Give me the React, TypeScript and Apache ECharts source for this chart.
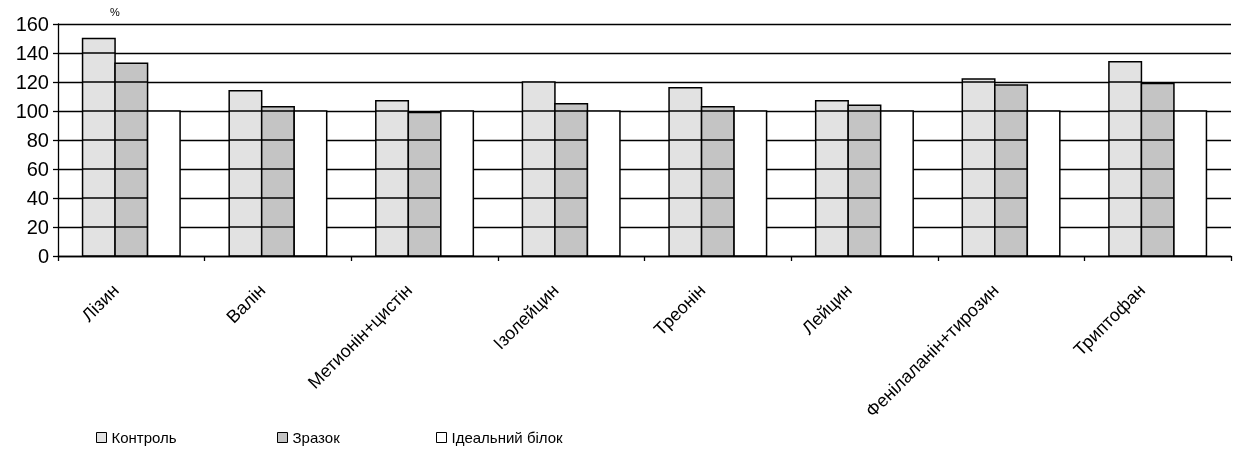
import React, { useEffect, useRef } from "react";
import * as echarts from "echarts";

// Amino acid scores, % of the ideal protein
const categories = [
  "Лізин",
  "Валін",
  "Метионін+цистін",
  "Ізолейцин",
  "Треонін",
  "Лейцин",
  "Фенілаланін+тирозин",
  "Триптофан",
];
const controlValues = [150, 114, 107, 120, 116, 107, 122, 134];
const sampleValues = [133, 103, 99, 105, 103, 104, 118, 119];
const idealValues = [100, 100, 100, 100, 100, 100, 100, 100];
const seriesNames = ["Контроль", "Зразок", "Ідеальний білок"];
const yTicks = [20, 40, 60, 80, 100, 120, 140, 160];

const FONT = "'Liberation Sans', Arial, sans-serif";
const FILLS = ["#e2e2e2", "#c4c4c4", "#ffffff"];
const BAR_FRACTION = 0.2217; // share of a category band taken by one bar

// One bar per item; grey bars also repeat the horizontal grid lines across their face.
function makeBarSeries(k: number, values: number[]) {
  return {
    type: "custom",
    name: seriesNames[k],
    z: 2 + k,
    data: values.map((v, i) => [i, v]),
    encode: { x: 0, y: 1 },
    itemStyle: { color: FILLS[k], borderColor: "#000", borderWidth: 1 },
    renderItem: (params: any, api: any) => {
      const cat = api.value(0);
      const val = api.value(1);
      const base = api.coord([cat, 0]);
      const top = api.coord([cat, val]);
      const band = api.size([1, 0])[0];
      const bw = band * BAR_FRACTION;
      const x = base[0] + (k - 1.5) * bw;
      const children: any[] = [
        {
          type: "rect",
          shape: { x, y: top[1], width: bw, height: base[1] - top[1] },
          style: { fill: FILLS[k], stroke: "#000", lineWidth: 1.5 },
        },
      ];
      if (k < 2) {
        yTicks
          .filter((t) => t < val)
          .forEach((t) => {
            const y = api.coord([cat, t])[1];
            children.push({
              type: "line",
              shape: { x1: x, y1: y, x2: x + bw, y2: y },
              style: { stroke: "#000", lineWidth: 1.3 },
            });
          });
      }
      return { type: "group", children };
    },
  };
}

export default function App() {
  const ref = useRef<HTMLDivElement>(null);

  useEffect(() => {
    if (!ref.current) return;
    const chart = echarts.init(ref.current, undefined, { renderer: "svg" });

    chart.setOption({
      animation: false,
      grid: { left: 58, right: 2, top: 24, bottom: 194, containLabel: false },
      legend: [0, 1, 2].map((i) => ({
        data: [seriesNames[i]],
        left: [96, 277, 436][i],
        top: 430,
        padding: 0,
        itemWidth: 10,
        itemHeight: 10,
        itemGap: 6,
        icon: "rect",
        itemStyle: { borderColor: "#000", borderWidth: 1 },
        textStyle: { fontFamily: FONT, fontSize: 15, lineHeight: 15, color: "#000" },
      })),
      graphic: [
        {
          type: "text",
          left: 110,
          top: 6,
          style: { text: "%", fontFamily: FONT, fontSize: 11, fill: "#000" },
        },
      ],
      xAxis: {
        type: "category",
        data: categories,
        z: 10,
        axisLine: { lineStyle: { color: "#000", width: 1.3 } },
        axisTick: { show: true, length: 5, lineStyle: { color: "#000", width: 1.3 } },
        axisLabel: {
          rotate: 45,
          margin: 3,
          align: "right",
          verticalAlign: "top",
          padding: [0, 31, 0, 0],
          fontFamily: FONT,
          fontSize: 18,
          color: "#000",
          interval: 0,
        },
      },
      yAxis: {
        type: "value",
        min: 0,
        max: 160,
        interval: 20,
        axisLine: { show: true, lineStyle: { color: "#000", width: 1.3 } },
        axisTick: { show: true, length: 5, lineStyle: { color: "#000", width: 1.3 } },
        axisLabel: { fontFamily: FONT, fontSize: 20, color: "#000", margin: 9 },
        splitLine: { show: true, lineStyle: { color: "#000", width: 1.3 } },
      },
      series: [
        makeBarSeries(0, controlValues),
        makeBarSeries(1, sampleValues),
        makeBarSeries(2, idealValues),
      ],
    });

    return () => chart.dispose();
  }, []);

  return (
    <div
      ref={ref}
      style={{ position: "fixed", left: 0, top: 0, width: 1233, height: 450 }}
    />
  );
}
